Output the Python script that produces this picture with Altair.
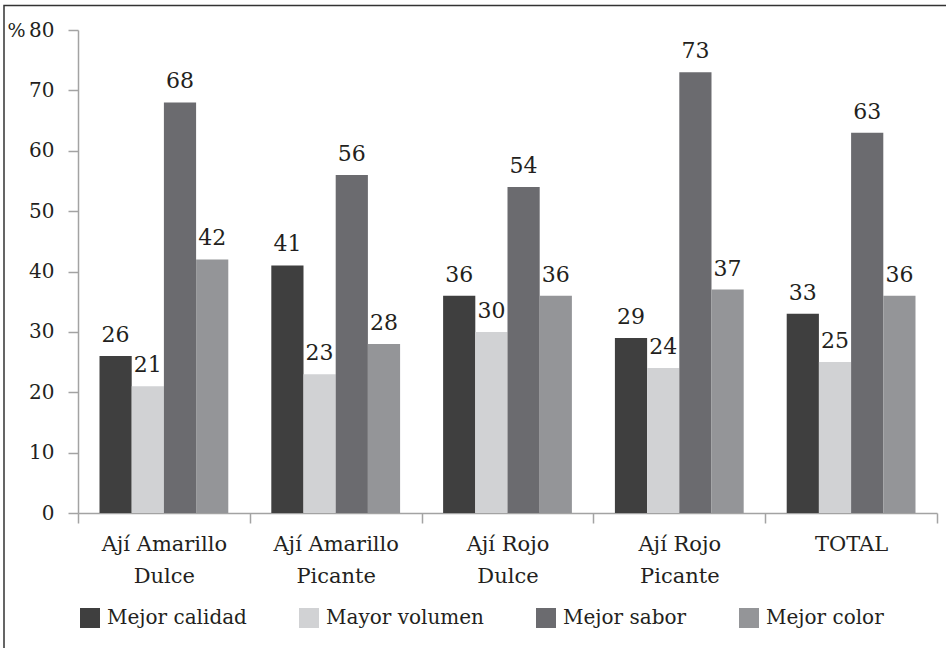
import altair as alt
import pandas as pd

# Product groups (two-line axis labels) and reason categories
categories = ["Ají Amarillo\nDulce", "Ají Amarillo\nPicante", "Ají Rojo\nDulce", "Ají Rojo\nPicante", "TOTAL"]
series = ["Mejor calidad", "Mayor volumen", "Mejor sabor", "Mejor color"]

# Percentages per group, one list per reason
mejor_calidad = [26, 41, 36, 29, 33]
mayor_volumen = [21, 23, 30, 24, 25]
mejor_sabor = [68, 56, 54, 73, 63]
mejor_color = [42, 28, 36, 37, 36]

colors = ["#3f3f3f", "#d1d2d4", "#6b6b6f", "#949598"]
y_ticks = [0, 10, 20, 30, 40, 50, 60, 70, 80]

rows = []
for name, vals in zip(series, [mejor_calidad, mayor_volumen, mejor_sabor, mejor_color]):
    for cat, v in zip(categories, vals):
        rows.append({"grupo": cat, "motivo": name, "valor": v})
df = pd.DataFrame(rows)

FONT = "DejaVu Serif"
TEXT = "#231f20"
AXIS_GRAY = "#a3a3a3"

x_scale = alt.Scale(paddingInner=0, paddingOuter=0, round=False)
off_scale = alt.Scale(paddingInner=0, paddingOuter=0.668, round=False)

x_enc = alt.X(
    "grupo:N",
    sort=categories,
    scale=x_scale,
    axis=alt.Axis(
        title=None,
        labelAngle=0,
        labelExpr="datum.value ? split(datum.value, '\\n') : ''",
        labelFont=FONT,
        labelFontSize=21,
        labelColor=TEXT,
        labelLineHeight=32,
        labelPadding=10,
        tickBand="extent",
        tickSize=10,
        tickColor=AXIS_GRAY,
        tickWidth=1.5,
        domainColor=AXIS_GRAY,
        domainWidth=1.5,
        grid=False,
    ),
)
y_enc = alt.Y(
    "valor:Q",
    scale=alt.Scale(domain=[0, 80], nice=False),
    axis=alt.Axis(
        title="%",
        titleAngle=0,
        titleX=-71,
        titleY=0,
        titleAlign="left",
        titleBaseline="middle",
        titleFont=FONT,
        titleFontSize=19,
        titleFontWeight="normal",
        titleColor=TEXT,
        values=y_ticks,
        labelFont=FONT,
        labelFontSize=20,
        labelColor=TEXT,
        labelPadding=14,
        tickSize=10,
        tickColor=AXIS_GRAY,
        tickWidth=1.5,
        domainColor=AXIS_GRAY,
        domainWidth=1.5,
        grid=False,
    ),
)

bars = alt.Chart(df).mark_bar(strokeWidth=0).encode(
    x=x_enc,
    xOffset=alt.XOffset("motivo:N", sort=series, scale=off_scale),
    y=y_enc,
    color=alt.Color(
        "motivo:N",
        sort=series,
        scale=alt.Scale(domain=series, range=colors),
        legend=alt.Legend(
            title=None,
            orient="none",
            legendX=2,
            legendY=578,
            direction="horizontal",
            symbolType="square",
            symbolSize=400,
            symbolStrokeWidth=0,
            labelFont=FONT,
            labelFontSize=20,
            labelColor=TEXT,
            labelOffset=7,
            columnPadding=52,
        ),
    ),
)

labels = alt.Chart(df).mark_text(
    font=FONT, fontSize=22, color=TEXT, baseline="alphabetic", dy=-14
).encode(
    x=alt.X("grupo:N", sort=categories, scale=x_scale),
    xOffset=alt.XOffset("motivo:N", sort=series, scale=off_scale),
    y="valor:Q",
    text="valor:Q",
)

# Frame around the figure (left and top edges fall inside the canvas)
frame = alt.Chart(pd.DataFrame({"k": [0]})).mark_rect(
    fill=None, stroke="#333333", strokeWidth=1.5
).encode(
    x=alt.value(-74), x2=alt.value(900), y=alt.value(-24.5), y2=alt.value(700)
)

chart = (
    alt.layer(frame, bars, labels)
    .properties(
        width=859,
        height=483,
        autosize=alt.AutoSizeParams(type="none"),
        padding={"left": 78, "top": 30, "right": 9, "bottom": 135},
        background="white",
    )
    .configure_view(stroke=None)
)

chart.save("out.html", embed_options={"renderer": "svg", "actions": False})
